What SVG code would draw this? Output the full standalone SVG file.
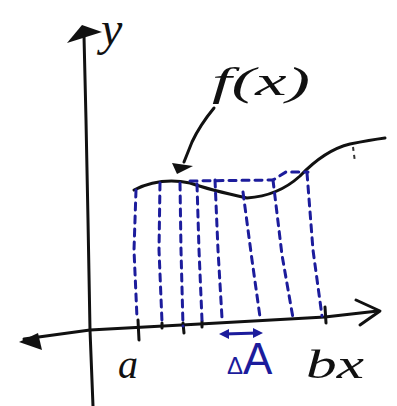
<svg xmlns="http://www.w3.org/2000/svg" width="397" height="406" viewBox="0 0 397 406">
<style>
.ink{fill:none;stroke:#111;stroke-width:3;stroke-linecap:round;stroke-linejoin:round}
.blue{fill:none;stroke:#1c1c9c;stroke-width:3;stroke-linecap:round;stroke-dasharray:7 6}
.bsolid{fill:none;stroke:#1c1c9c;stroke-width:3;stroke-linecap:round}
.lbl{font-family:"Liberation Serif",serif;font-style:italic;fill:#111}
.blbl{font-family:"Liberation Sans",sans-serif;fill:#1c1c9c}
</style>
<rect width="397" height="406" fill="#fff"/>
<g id="axes">
<path class="ink" d="M84,36 L86,120 L88,220 L90,330 L93,406"/>
<polygon points="82,25 67,43 102,32" fill="#111"/>
<path class="ink" d="M24,339 L90,330 L200,324 L325,317 L378,311"/>
<polyline class="ink" points="356,300 380,311 360,325"/>
<polygon points="19,342 38,333 42,350" fill="#111"/>
<path class="ink" d="M138,320 L139,340"/>
<path class="ink" d="M325,307 L326,323"/>
<path class="ink" d="M162,323 L162,328 M183,323 L184,333 M202,321 L202,327"/>
</g>
<g id="curve">
<path class="ink" d="M134,190 Q160,177 190,183 Q210,190 247,198 Q278,196 300,176 Q325,150 350,144 Q370,140 385,138"/>
<path d="M353,147 L355,162" fill="none" stroke="#333" stroke-width="2" stroke-dasharray="4 4"/>
</g>
<g id="strips">
<path class="blue" d="M136,190 L134,250 L137,318"/>
<path class="blue" d="M160,183 L159,250 L162,322"/>
<path class="blue" d="M180,183 L181,250 L183,326"/>
<path class="blue" d="M197,184 L199,250 L202,320"/>
<path class="blue" d="M215,180 L218,250 L222,318"/>
<path class="blue" d="M243,192 L252,260 L260,317"/>
<path class="blue" d="M273,180 L282,255 L293,318"/>
<path class="blue" d="M307,173 L313,250 L322,316"/>
<path class="blue" d="M190,181 L273,180 L286,172 L308,172"/>
</g>
<g id="delta-arrow">
<path class="bsolid" d="M224,334 L258,333"/>
<polygon points="219,334 229,329 229,339" fill="#1c1c9c"/>
<polygon points="263,333 253,328 253,338" fill="#1c1c9c"/>
</g>
<g id="f-pointer">
<path class="ink" d="M214,108 Q200,125 192,142 L184,162"/>
<polygon points="177,174 172,163 193,166" fill="#111"/>
</g>
<g id="labels">
<text class="lbl" x="101" y="45" font-size="48">y</text>
<text class="lbl" x="212" y="95" font-size="40" textLength="98" lengthAdjust="spacingAndGlyphs">f(x)</text>
<text class="lbl" x="118" y="378" font-size="40">a</text>
<text class="lbl" x="306" y="378" font-size="40" textLength="58" lengthAdjust="spacingAndGlyphs">bx</text>
<text class="blbl" x="227" y="374"><tspan font-size="24">Δ</tspan><tspan font-size="44">A</tspan></text>
</g>
</svg>
